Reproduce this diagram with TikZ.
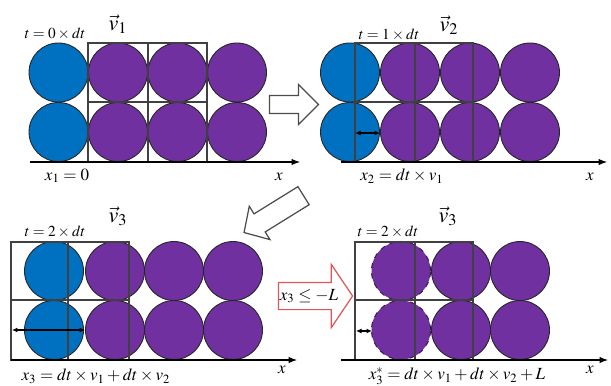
\documentclass[tikz,border=0pt]{standalone}
\usepackage{mathptmx}
\usetikzlibrary{arrows.meta, positioning, shapes.arrows}
\definecolor{ballblue}{HTML}{0070C0}
\definecolor{ballpurple}{HTML}{7030A0}
\definecolor{limred}{HTML}{E05555}
\tikzset{
  >=Latex,
  ball/.style={circle, fill=#1, draw=black!85, line width=0.5pt,
    minimum size=1.18cm, inner sep=0pt},
  ball/.default=ballpurple,
  ghost/.style={circle, fill=ballpurple, draw=ballpurple!55!black, dashed,
    line width=0.6pt, minimum size=1.18cm, inner sep=0pt},
  cellline/.style={draw=black!75, line width=0.6pt},
  axis/.style={-{Latex[length=1.7mm,width=1.3mm]}, line width=0.6pt},
  gap/.style={{Latex[length=1.1mm,width=1mm]}-{Latex[length=1.1mm,width=1mm]},
    line width=0.6pt},
  hollow/.style={single arrow, draw=#1, fill=white, line width=0.7pt,
    inner xsep=0pt},
  hollow/.default=black!70,
  lab/.style={font=\fontsize{9.7}{11}\selectfont, inner sep=1pt},
  tlab/.style={font=\fontsize{8.7}{10}\selectfont, inner sep=1pt},
  vel/.style={font=\fontsize{12.5}{14}\selectfont, inner sep=1pt}
}
\begin{document}
\begin{tikzpicture}[x=0.02cm, y=-0.02cm]
  \useasboundingbox (0,0) rectangle (611,385);

  % t = 0
  \foreach \y [count=\r] in {72.5,132} {
    \node[ball=ballblue] (a\r0) at (58.5,\y) {};
    \foreach \x [count=\c] in {118,177.5,237}
      \node[ball] (a\r\c) at (\x,\y) {};
  }
  \draw[cellline] (88,43) rectangle (207,162) (148,43) -- (148,162)
    (88,102) -- (207,102);
  \coordinate (ax1s) at (30,162);
  \coordinate (ax1e) at (300,162);
  \draw[axis] (ax1s) -- (ax1e);
  \node[tlab] (t1) at (55,34) {$t = 0 \times dt$};
  \node[vel] (v1) at (118,24) {$\vec{v}_1$};
  \node[lab] (p1) at (67,176) {$x_1 = 0$};
  \node[lab] (x1) at (279,177) {$x$};

  % t = 1
  \foreach \y [count=\r] in {72.5,132} {
    \node[ball=ballblue] (b\r0) at (350,\y) {};
    \foreach \x [count=\c] in {410,470,530}
      \node[ball] (b\r\c) at (\x,\y) {};
  }
  \draw[cellline] (355,43) rectangle (473,162) (415,43) -- (415,162)
    (355,102) -- (473,102);
  \coordinate (ax2s) at (341,162);
  \coordinate (ax2e) at (607,162);
  \draw[axis] (ax2s) -- (ax2e);
  \coordinate (g2s) at (355,133);
  \coordinate (g2e) at (380,133);
  \draw[gap] (g2s) -- (g2e);
  \node[tlab] (t2) at (389,35) {$t = 1 \times dt$};
  \node[vel] (v2) at (449,25) {$\vec{v}_2$};
  \node[lab] (p2) at (402,176) {$x_2 = dt \times v_1$};
  \node[lab] (x2) at (590,177) {$x$};

  % t = 2
  \foreach \y [count=\r] in {271,330} {
    \node[ball=ballblue] (c\r0) at (54,\y) {};
    \foreach \x [count=\c] in {115,174,233}
      \node[ball] (c\r\c) at (\x,\y) {};
  }
  \draw[cellline] (11,242) rectangle (129,360) (68,242) -- (68,360)
    (11,300) -- (129,300);
  \coordinate (ax3s) at (11,360);
  \coordinate (ax3e) at (297,360);
  \draw[axis] (ax3s) -- (ax3e);
  \coordinate (g3s) at (12,330);
  \coordinate (g3e) at (85,330);
  \draw[gap] (g3s) -- (g3e);
  \node[tlab] (t3) at (55,232) {$t = 2 \times dt$};
  \node[vel] (v3) at (118,216) {$\vec{v}_3$};
  \node[lab] (p3) at (96,376) {$x_3 = dt \times v_1 + dt \times v_2$};
  \node[lab] (x3) at (282,370) {$x$};

  % t = 2, shifted by L
  \foreach \y [count=\r] in {271,330} {
    \node[ghost] (d\r0) at (401,\y) {};
    \foreach \x [count=\c] in {461,520}
      \node[ball] (d\r\c) at (\x,\y) {};
  }
  \draw[cellline] (355,242) rectangle (473,360) (415,242) -- (415,360)
    (355,300) -- (473,300);
  \coordinate (ax4s) at (341,360);
  \coordinate (ax4e) at (608,360);
  \draw[axis] (ax4s) -- (ax4e);
  \coordinate (g4s) at (356,331);
  \coordinate (g4e) at (372,331);
  \draw[gap] (g4s) -- (g4e);
  \node[tlab] (t4) at (388,232) {$t = 2 \times dt$};
  \node[vel] (v4) at (448,216) {$\vec{v}_3$};
  \node[lab] (p4) at (457,376) {$x_3^{*} = dt \times v_1 + dt \times v_2 + L$};
  \node[lab] (x4) at (590,370) {$x$};

  % steps
  \node[hollow, inner ysep=0.17cm, minimum height=0.98cm, minimum width=0.78cm,
    single arrow head extend=0.22cm] (s1) at (289.5,104.5) {};
  \node[hollow, rotate=211.8, inner ysep=0.2cm, minimum height=1.4cm,
    minimum width=0.76cm, single arrow head extend=0.18cm,
    single arrow tip angle=94] (s2) at (278,211.5) {};
  \node[hollow=limred, inner ysep=0.26cm, minimum height=1.48cm,
    minimum width=1.24cm, single arrow head extend=0.36cm,
    single arrow tip angle=112] (s3) at (311,296) {};
  \node[lab] (lim) at (309,296) {$x_3 \le -L$};
\end{tikzpicture}
\end{document}
